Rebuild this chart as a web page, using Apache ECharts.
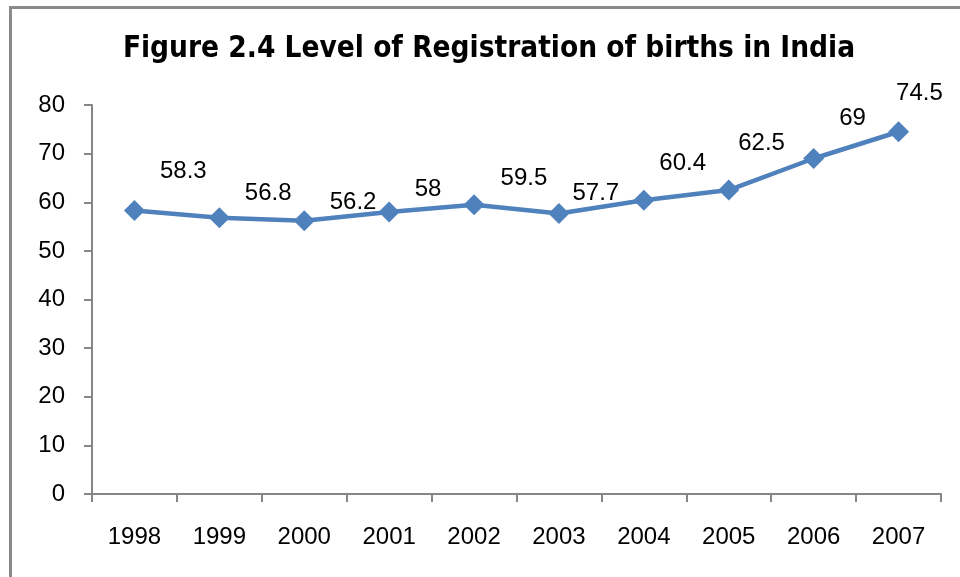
<!DOCTYPE html>
<html>
<head>
<meta charset="utf-8">
<script src="https://cdn.jsdelivr.net/npm/echarts@6/dist/echarts.min.js"></script>
<style>
  html, body { margin: 0; padding: 0; background: #fff; }
  #myChart { width: 960px; height: 577px; }
</style>
</head>
<body>
<div id="myChart"></div>
<script>
var titleText = 'Figure 2.4 Level of Registration of births in India';
var years = ['1998', '1999', '2000', '2001', '2002', '2003', '2004', '2005', '2006', '2007'];
var registration = [58.3, 56.8, 56.2, 58, 59.5, 57.7, 60.4, 62.5, 69, 74.5];
var yTicks = [0, 10, 20, 30, 40, 50, 60, 70, 80];

// label placement as in the original (labels were moved by hand)
var labelOffsets = [[15, -39], [15, -24], [15, -18], [15, -23], [16, -26],
                    [3, -20], [5, -37], [-1, -47], [15, -40], [-13, -38]];

var myChart = echarts.init(document.getElementById('myChart'));

var seriesData = registration.map(function (v, i) {
    return {
        value: v,
        label: { offset: labelOffsets[i] }
    };
});

var option = {
    animation: false,
    textStyle: { fontFamily: 'Liberation Sans' },
    graphic: [{
        type: 'rect',
        shape: { x: 10.5, y: 7.5, width: 1000, height: 1000 },
        style: { fill: 'none', stroke: '#8a8a8a', lineWidth: 3 },
        silent: true
    }, {
        type: 'text',
        style: {
            x: 489, y: 49,
            text: titleText,
            textAlign: 'center',
            textVerticalAlign: 'middle',
            fontFamily: 'DejaVu Sans Condensed',
            fontWeight: 'bold',
            fontSize: 29.5,
            fill: '#000'
        }
    }],
    grid: { left: 92, right: 19, top: 105, bottom: 83 },
    xAxis: {
        type: 'category',
        data: years,
        boundaryGap: true,
        axisLine: { lineStyle: { color: '#868686', width: 2 } },
        axisTick: { show: true, length: 8, lineStyle: { color: '#868686', width: 2 } },
        axisLabel: { color: '#000', fontSize: 24, margin: 31 }
    },
    yAxis: {
        type: 'value',
        min: yTicks[0],
        max: yTicks[yTicks.length - 1],
        interval: 10,
        splitLine: { show: false },
        axisLine: { show: true, lineStyle: { color: '#868686', width: 2 } },
        axisTick: { show: true, length: 8, lineStyle: { color: '#868686', width: 2 } },
        axisLabel: { color: '#000', fontSize: 24, margin: 27 }
    },
    series: [{
        type: 'line',
        data: seriesData,
        symbol: 'diamond',
        symbolSize: 21,
        lineStyle: { color: '#4F81BD', width: 4.5 },
        itemStyle: { color: '#4F81BD' },
        label: {
            show: true,
            position: 'right',
            distance: 0,
            color: '#000',
            fontSize: 24
        }
    }]
};

myChart.setOption(option);
</script>
</body>
</html>
